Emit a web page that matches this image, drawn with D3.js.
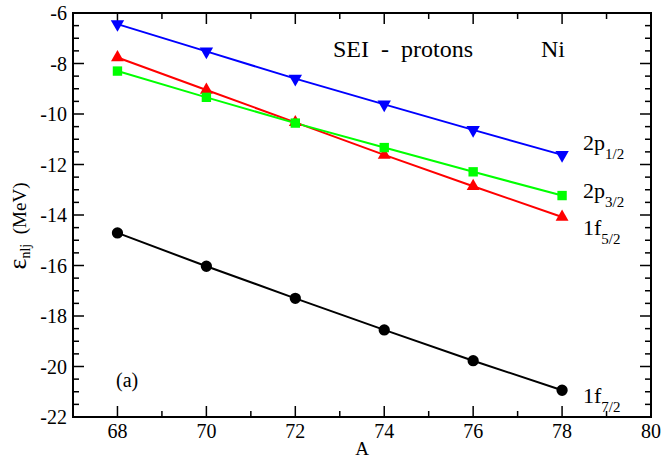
<!DOCTYPE html>
<html>
<head>
<meta charset="utf-8">
<script src="https://cdn.jsdelivr.net/npm/d3@7.9.0/dist/d3.min.js"></script>
<style>
  body { margin: 0; background: #fff; }
  svg text { font-family: "Liberation Serif", "DejaVu Serif", serif; white-space: pre; }
</style>
</head>
<body>
<svg id="chart" width="664" height="458"></svg>
<script>
// mass numbers
const massA = [68, 70, 72, 74, 76, 78];

// single-particle energies (MeV), one array per level
const p12 = [-6.44, -7.52, -8.60, -9.62, -10.63, -11.62];
const p32 = [-8.30, -9.34, -10.36, -11.33, -12.29, -13.23];
const f52 = [-7.76, -9.05, -10.33, -11.62, -12.86, -14.08];
const f72 = [-14.71, -16.03, -17.30, -18.55, -19.77, -20.94];

const xTicks = [68, 70, 72, 74, 76, 78, 80];
const yTicks = [-6, -8, -10, -12, -14, -16, -18, -20, -22];

const series = [
  { name: "2p", sub: "1/2", vals: p12, color: "#0000ff", sym: d3.symbolTriangle, flip: true, size: 78, ly: 150 },
  { name: "1f", sub: "5/2", vals: f52, color: "#ff0000", sym: d3.symbolTriangle, flip: false, size: 72, ly: 235 },
  { name: "2p", sub: "3/2", vals: p32, color: "#00ff00", sym: d3.symbolSquare, flip: false, size: 88, ly: 198 },
  { name: "1f", sub: "7/2", vals: f72, color: "#000000", sym: d3.symbolCircle, flip: false, size: 100, ly: 403 }
];

const m = { left: 73, right: 651, top: 13, bottom: 417 };
const svg = d3.select("#chart");

const x = d3.scaleLinear().domain([67, 80]).range([m.left, m.right]);
const y = d3.scaleLinear().domain([-22, -6]).range([m.bottom, m.top]);

// frame
svg.append("rect")
  .attr("x", m.left).attr("y", m.top)
  .attr("width", m.right - m.left).attr("height", m.bottom - m.top)
  .attr("fill", "none").attr("stroke", "#000").attr("stroke-width", 2);

// ticks on all four sides, pointing inward
const xMinor = d3.range(67, 80.01, 1);
const yMinor = d3.range(-22, -5.99, 0.5);
const tickG = svg.append("g").attr("stroke", "#000").attr("stroke-width", 1.5);

xMinor.forEach(v => {
  const len = (v % 2 === 0) ? 11 : 6;
  tickG.append("line").attr("x1", x(v)).attr("x2", x(v)).attr("y1", m.bottom).attr("y2", m.bottom - len);
  tickG.append("line").attr("x1", x(v)).attr("x2", x(v)).attr("y1", m.top).attr("y2", m.top + len);
});
yMinor.forEach(v => {
  const len = (v % 2 === 0) ? 11 : 6;
  tickG.append("line").attr("y1", y(v)).attr("y2", y(v)).attr("x1", m.left).attr("x2", m.left + len);
  tickG.append("line").attr("y1", y(v)).attr("y2", y(v)).attr("x1", m.right).attr("x2", m.right - len);
});

// tick labels
svg.append("g").selectAll("text").data(xTicks).join("text")
  .attr("x", d => x(d)).attr("y", 438)
  .attr("text-anchor", "middle").attr("font-size", 20)
  .text(d => d);

svg.append("g").selectAll("text").data(yTicks).join("text")
  .attr("x", m.left - 6).attr("y", d => y(d) + 7)
  .attr("text-anchor", "end").attr("font-size", 20)
  .text(d => d);

// axis titles
svg.append("text")
  .attr("x", 362).attr("y", 455)
  .attr("text-anchor", "middle").attr("font-size", 19)
  .text("A");

const yt = svg.append("text")
  .attr("transform", `translate(26,226) rotate(-90)`)
  .attr("text-anchor", "middle").attr("font-size", 19);
yt.append("tspan").attr("font-size", 26).text("ε");
yt.append("tspan").attr("font-size", 14).attr("dy", 4).text("nlj");
yt.append("tspan").attr("dy", -4).text("  (MeV)");

// lines and markers
const line = d3.line().x((d, i) => x(massA[i])).y(d => y(d));

series.forEach(s => {
  svg.append("path")
    .attr("d", line(s.vals))
    .attr("fill", "none").attr("stroke", s.color).attr("stroke-width", 2);
});

series.forEach(s => {
  const sym = d3.symbol().type(s.sym).size(s.size);
  svg.append("g").selectAll("path").data(s.vals).join("path")
    .attr("d", sym)
    .attr("fill", s.color)
    .attr("transform", (d, i) => `translate(${x(massA[i])},${y(d)})` + (s.flip ? " rotate(180)" : ""));
});

// level labels
series.forEach(s => {
  const t = svg.append("text")
    .attr("x", 583).attr("y", s.ly)
    .attr("font-size", 22);
  t.append("tspan").text(s.name);
  t.append("tspan").attr("font-size", 15).attr("dy", 9).text(s.sub);
});

// annotations
svg.append("text").attr("x", 333).attr("y", 57).attr("font-size", 24).text("SEI  -  protons");
svg.append("text").attr("x", 541).attr("y", 57).attr("font-size", 24).text("Ni");
svg.append("text").attr("x", 116).attr("y", 387).attr("font-size", 20).text("(a)");
</script>
</body>
</html>
